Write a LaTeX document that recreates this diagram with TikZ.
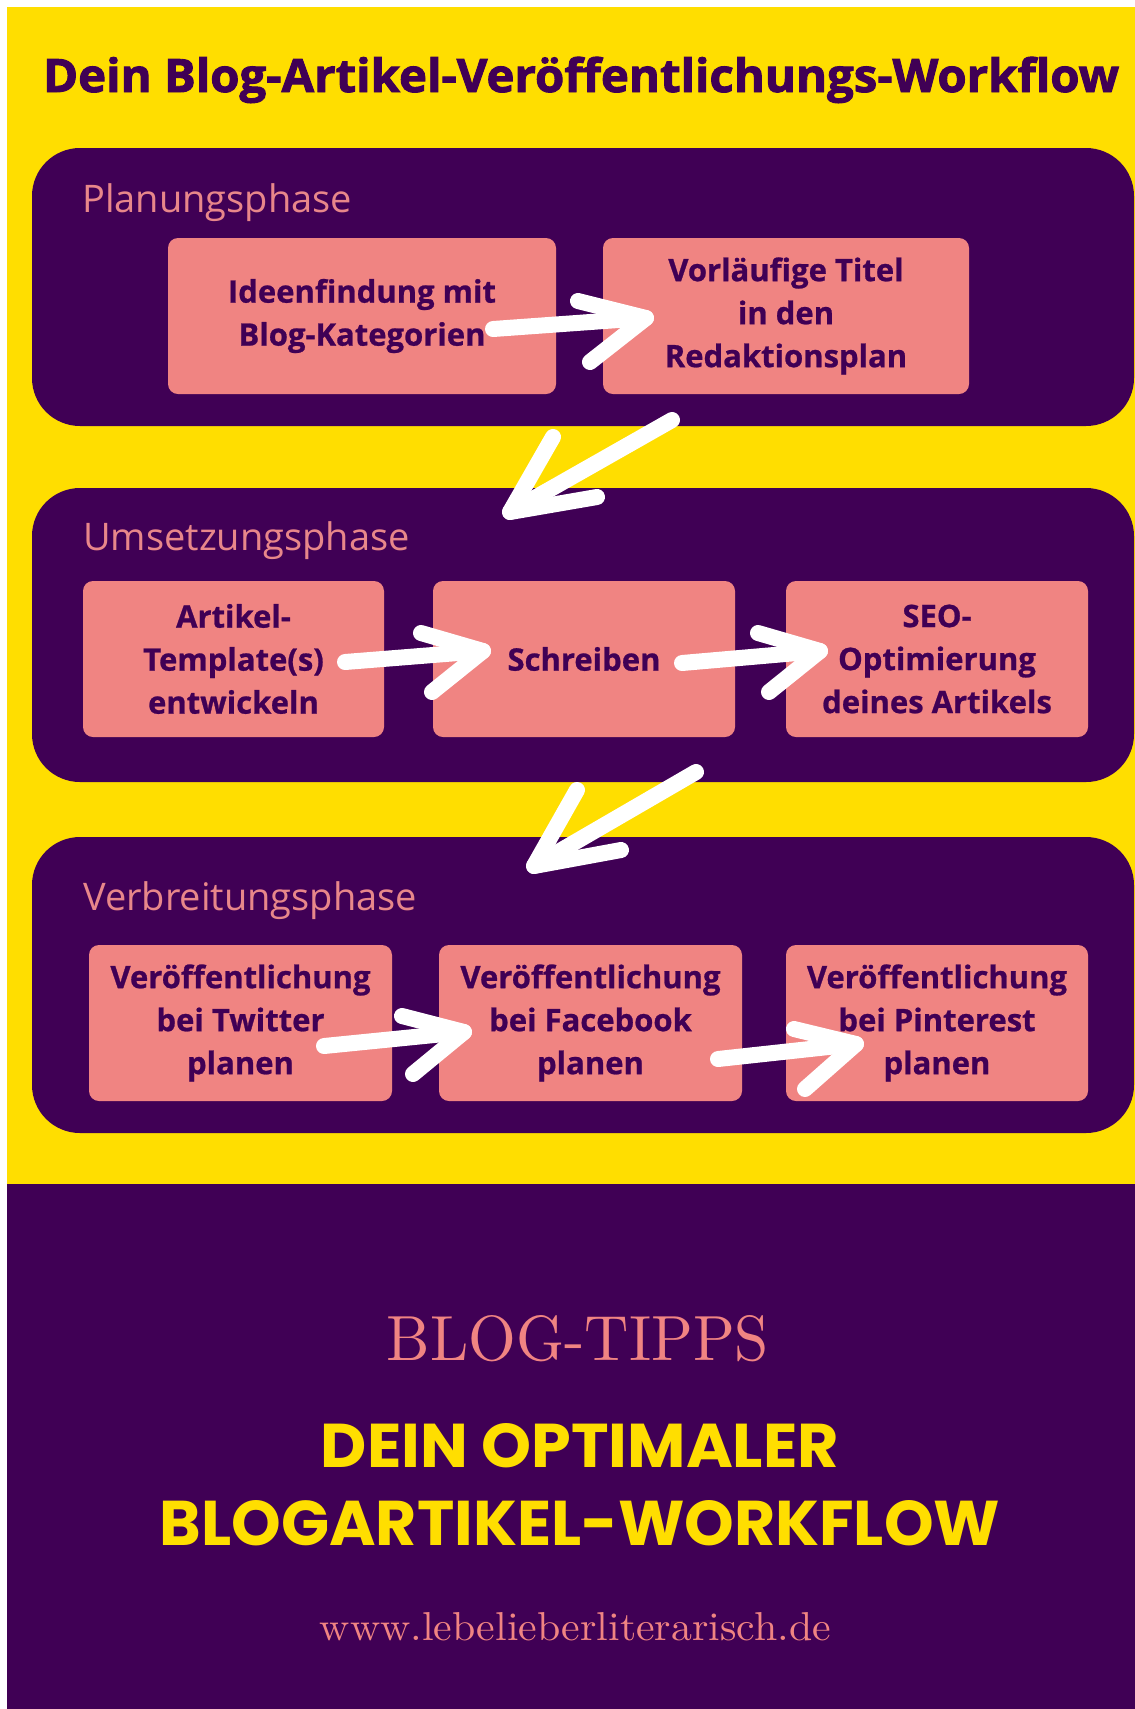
\documentclass[tikz,border=0pt]{standalone}
\usepackage{fontspec}
\usepackage{graphicx}
\newfontfamily\osans{Open Sans}
\newfontfamily\osbox[BoldFeatures={FakeBold=0.8}]{Open Sans}
\newfontfamily\osheavy[BoldFeatures={FakeBold=2}]{Open Sans}
\newfontfamily\pop{Poppins}
\definecolor{yel}{HTML}{FFDE00}
\definecolor{pur}{HTML}{400055}
\definecolor{sal}{HTML}{F08482}
\definecolor{pinklbl}{HTML}{E8878A}
\tikzset{
  phase/.style={fill=pur, draw=none, rounded corners=48pt, inner sep=0pt, minimum width=1102pt},
  task/.style={fill=sal, draw=none, rounded corners=10pt, inner sep=0pt, minimum height=156pt,
    align=center, text=pur, font=\osbox\bfseries\fontsize{31}{43}\selectfont},
  phaselbl/.style={anchor=base west, inner sep=0pt, text=pinklbl, font=\osans\fontsize{38}{44}\selectfont},
  brush/.style={draw=white, line width=16pt, line cap=round, line join=round},
  big/.style={anchor=base, inner sep=0pt}
}
\begin{document}
\begin{tikzpicture}[x=1pt,y=-1pt]
\useasboundingbox (0,0) rectangle (1135,1709);
\fill[white] (0,0) rectangle (1135,1709);
\fill[yel] (7,7) rectangle (1135,1184);
\fill[pur] (7,1184) rectangle (1135,1709);

% title
\node[anchor=base west, inner sep=0pt, text=pur] (title) at (43,92)
  {\resizebox{1076pt}{\height}{\osheavy\bfseries\fontsize{46}{50}\selectfont Dein Blog-Artikel-Veröffentlichungs-Workflow}};

% phases
\node[phase, minimum height=278pt] (plan) at (583,287) {};
\node[phase, minimum height=294pt] (umset) at (583,635) {};
\node[phase, minimum height=296pt] (verb) at (583,985) {};

\node[phaselbl] (planlbl) at (82,212) {Planungsphase};
\node[phaselbl] (umsetlbl) at (83,550) {Umsetzungsphase};
\node[phaselbl] (verblbl) at (83,910) {Verbreitungsphase};

% tasks
\node[task, minimum width=388pt] (ideen) at (362,316) {Ideenfindung mit\\Blog-Kategorien};
\node[task, minimum width=366pt] (titel) at (786,316) {Vorläufige Titel\\in den\\Redaktionsplan};

\node[task, minimum width=301pt] (templ) at (233.5,659) {Artikel-\\Template(s)\\entwickeln};
\node[task, minimum width=302pt] (schr) at (584,659) {Schreiben};
\node[task, minimum width=302pt] (seo) at (937,659) {SEO-\\Optimierung\\deines Artikels};

\node[task, minimum width=303pt] (tw) at (240.5,1023) {Veröffentlichung\\bei Twitter\\planen};
\node[task, minimum width=303pt] (fb) at (590.5,1023) {Veröffentlichung\\bei Facebook\\planen};
\node[task, minimum width=302pt] (pin) at (937,1023) {Veröffentlichung\\bei Pinterest\\planen};

% arrow coordinates
\coordinate (p1s) at (493,329); \coordinate (p1t) at (646,318); \coordinate (p1u) at (578,301); \coordinate (p1l) at (590,362);
\coordinate (u1s) at (345,662); \coordinate (u1t) at (483,651); \coordinate (u1u) at (421,633); \coordinate (u1l) at (432,692);
\coordinate (u2s) at (682,663); \coordinate (u2t) at (820,651); \coordinate (u2u) at (758,633); \coordinate (u2l) at (769,692);
\coordinate (v1s) at (324,1046); \coordinate (v1t) at (464,1032); \coordinate (v1u) at (402,1016); \coordinate (v1l) at (413,1074);
\coordinate (v2s) at (718,1059); \coordinate (v2t) at (856,1044); \coordinate (v2u) at (794,1029); \coordinate (v2l) at (805,1089);
\coordinate (d1s) at (672,420); \coordinate (d1t) at (510,512); \coordinate (d1u) at (553,437); \coordinate (d1l) at (597,497);
\coordinate (d2s) at (696,772); \coordinate (d2t) at (534,866); \coordinate (d2u) at (577,790); \coordinate (d2l) at (621,850);

\foreach \a in {p1,u1,u2,v1,v2,d1,d2}{
  \draw[brush] (\a s) -- (\a t);
  \draw[brush] (\a u) -- (\a t) -- (\a l);
}

% bottom
\node[big, text=sal] (tipps) at (578,1360) {\resizebox{382pt}{45pt}{BLOG-TIPPS}};
\node[big, text=yel] (head1) at (580,1467) {\resizebox{518pt}{44pt}{\pop\bfseries DEIN OPTIMALER}};
\node[big, text=yel] (head2) at (580,1545) {\resizebox{840pt}{45pt}{\pop\bfseries BLOGARTIKEL-WORKFLOW}};
\node[big, text=sal] (url) at (575.5,1640) {\resizebox{511pt}{28pt}{www.lebelieberliterarisch.de}};
\end{tikzpicture}
\end{document}
